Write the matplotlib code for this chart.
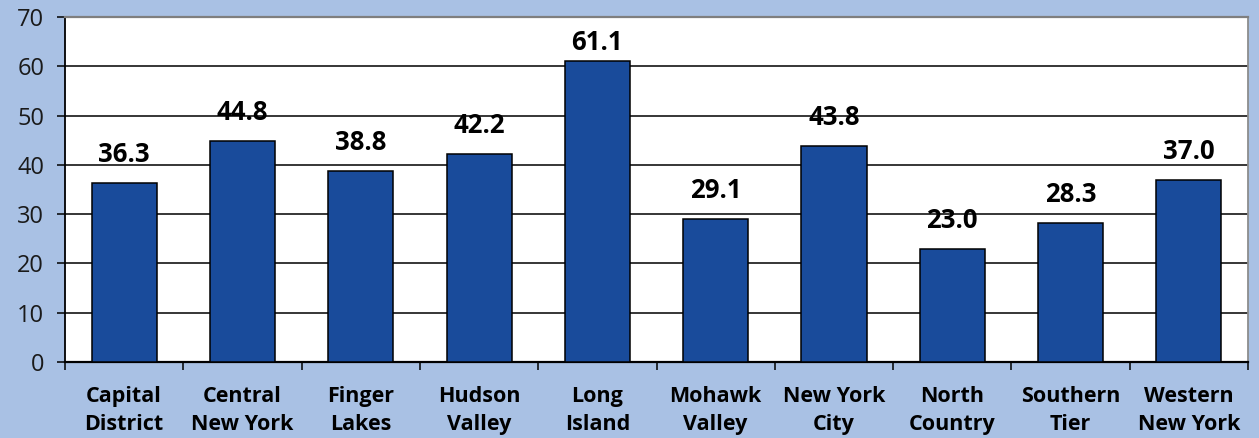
import matplotlib
matplotlib.use("Agg")
import matplotlib.pyplot as plt
import numpy as np

regions = ["Capital\nDistrict", "Central\nNew York", "Finger\nLakes", "Hudson\nValley",
           "Long\nIsland", "Mohawk\nValley", "New York\nCity", "North\nCountry",
           "Southern\nTier", "Western\nNew York"]
rates = [36.3, 44.8, 38.8, 42.2, 61.1, 29.1, 43.8, 23.0, 28.3, 37.0]
y_ticks = [0, 10, 20, 30, 40, 50, 60, 70]

bg = "#a9c1e4"
bar_color = "#194b9b"

plt.rcParams["font.family"] = ["Open Sans", "DejaVu Sans"]

fig = plt.figure(figsize=(12.59, 4.38), dpi=100, facecolor=bg)
ax = fig.add_axes([0.0516, 0.1735, 0.9397, 0.7875])
ax.set_facecolor("white")

x = np.arange(len(regions))
ax.bar(x, rates, width=0.55, color=bar_color, edgecolor="black", linewidth=1.1, zorder=3)

# value labels above each bar, kept inside the frame near the top
for xi, v in zip(x, rates):
    ax.text(xi, min(v + 3.0, 62.1), f"{v:.1f}", ha="center", va="bottom",
            fontsize=18.5, fontweight="bold", color="black", zorder=4)

ax.set_xlim(-0.5, len(regions) - 0.5)
ax.set_ylim(0, 70)
ax.set_yticks(y_ticks)
ax.set_yticklabels([str(t) for t in y_ticks], fontsize=17, color="#1a1a1a")
ax.yaxis.grid(True, color="black", linewidth=1.1, zorder=0)
ax.set_axisbelow(True)

# category labels centred, tick marks on the boundaries
ax.set_xticks(x)
ax.set_xticklabels(regions, fontsize=15.5, fontweight="bold", linespacing=1.45)
ax.tick_params(axis="x", length=0, pad=17)
ax.set_xticks(np.arange(-0.5, len(regions)), minor=True)
ax.tick_params(axis="x", which="minor", length=6, width=1.1, direction="out")
ax.tick_params(axis="y", length=6, width=1.1, direction="out", pad=9)

ax.spines["left"].set_color("black")
ax.spines["left"].set_linewidth(1.3)
ax.spines["bottom"].set_color("black")
ax.spines["bottom"].set_linewidth(1.6)
ax.spines["top"].set_color("#7f7f7f")
ax.spines["top"].set_linewidth(1.6)
ax.spines["right"].set_color("#8c8c8c")
ax.spines["right"].set_linewidth(1.3)

fig.savefig("out.png", dpi=100, facecolor=bg)
